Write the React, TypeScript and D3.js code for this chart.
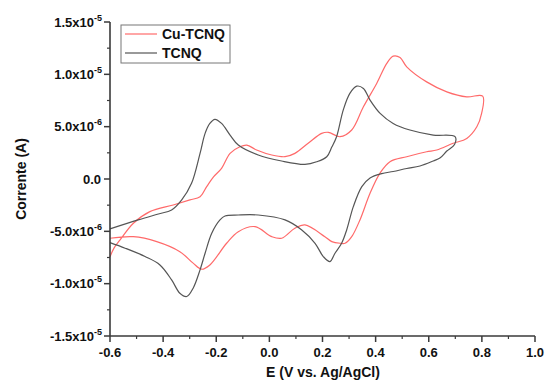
import * as d3 from "d3";

// potential (V vs Ag/AgCl) and current (in 1e-6 A)
const tcnqE = [
  -0.6, -0.494, -0.418, -0.368, -0.33, -0.293, -0.261, -0.242, -0.224, -0.205, -0.18, -0.148, -0.117, -0.042,
  0.046, 0.134, 0.178, 0.216, 0.235, 0.253, 0.278, 0.303, 0.329, 0.354, 0.379, 0.417, 0.466, 0.529, 0.617, 0.699,
  0.697, 0.668, 0.642, 0.617, 0.567, 0.517, 0.466, 0.423, 0.379, 0.348, 0.316, 0.291, 0.272, 0.247, 0.228, 0.203,
  0.172, 0.122, 0.059, -0.042, -0.117, -0.167, -0.186, -0.217, -0.242, -0.261, -0.287, -0.311, -0.337, -0.368,
  -0.412, -0.468, -0.543, -0.6,
];
const tcnqI = [
  -4.77, -3.91, -3.34, -2.96, -2.0, -0.41, 2.45, 4.36, 5.31, 5.7, 5.31, 4.2, 3.24, 2.29,
  1.72, 1.4, 1.65, 2.13, 3.05, 4.04, 6.58, 8.18, 8.87, 8.65, 7.54, 6.27, 5.31, 4.68, 4.2, 4.04,
  3.3, 2.67, 2.0, 1.72, 1.24, 1.0, 0.72, 0.52, 0.1, -0.73, -2.64, -4.87, -6.14, -7.09, -7.89, -7.41,
  -6.14, -4.87, -3.91, -3.44, -3.44, -3.53, -3.91, -5.18, -7.09, -8.68, -10.43, -11.23, -10.91, -9.64,
  -8.21, -7.41, -6.61, -6.08,
];
const cuE = [
  -0.6, -0.585, -0.562, -0.512, -0.45, -0.362, -0.299, -0.261, -0.236, -0.211, -0.18, -0.148, -0.111, -0.085,
  -0.048, 0.009, 0.059, 0.096, 0.146, 0.197, 0.222, 0.266, 0.31, 0.354, 0.404, 0.442, 0.466, 0.492, 0.517,
  0.592, 0.668, 0.743, 0.803,
  0.799, 0.781, 0.743, 0.692, 0.63, 0.592, 0.517, 0.454, 0.416, 0.379, 0.341, 0.31, 0.285, 0.266, 0.235,
  0.209, 0.134, 0.096, 0.046, 0.009, -0.054, -0.117, -0.161, -0.224, -0.255, -0.287, -0.337, -0.424, -0.512, -0.6,
];
const cuI = [
  -7.44, -6.6, -5.82, -4.23, -3.12, -2.48, -2.0, -1.69, -0.73, 0.19, 1.02, 2.45, 3.08, 3.24,
  2.77, 2.29, 2.13, 2.45, 3.41, 4.36, 4.46, 4.04, 4.68, 6.9, 9.13, 11.04, 11.74, 11.61, 10.72,
  9.28, 8.33, 7.85, 7.92,
  6.27, 4.99, 3.88, 3.41, 2.77, 2.6, 2.13, 1.65, 0.54, -1.36, -3.91, -5.51, -6.14, -6.14, -5.98,
  -5.51, -4.39, -4.7, -5.66, -5.51, -4.55, -5.03, -6.14, -8.21, -8.62, -8.04, -6.94, -5.98, -5.51, -5.66,
];

const seriesNames = ["Cu-TCNQ", "TCNQ"];
const seriesColors = ["#ff6a6a", "#555555"];

const xTicks = [-0.6, -0.4, -0.2, 0.0, 0.2, 0.4, 0.6, 0.8, 1.0];
const yTicks = [15, 10, 5, 0, -5, -10, -15];
const yTickMantissa = ["1.5", "1.0", "5.0", "0.0", "-5.0", "-1.0", "-1.5"];
const yTickExp = ["-5", "-5", "-6", "", "-6", "-5", "-5"];

const W = 546;
const H = 385;
const font = "'Liberation Sans', Arial, sans-serif";

export default function App() {
  const x = d3.scaleLinear().domain([-0.6, 1.0]).range([110, 535]);
  const y = d3.scaleLinear().domain([-15, 15]).range([336, 22]);

  const line = d3
    .line<[number, number]>()
    .x((d) => x(d[0]))
    .y((d) => y(d[1]))
    .curve(d3.curveCatmullRom.alpha(0.5));

  const series = [
    cuE.map((e, i) => [e, cuI[i]] as [number, number]),
    tcnqE.map((e, i) => [e, tcnqI[i]] as [number, number]),
  ];

  const xMinor = d3.range(-0.5, 1.0, 0.2);
  const yMinor = d3.range(-12.5, 15, 5);
  const axisColor = "#3a3a3a";

  return (
    <svg
      width={W}
      height={H}
      style={{ position: "absolute", left: 0, top: 0, background: "#fff" }}
      fontFamily={font}
      fontWeight="bold"
    >
      {/* curves */}
      {series.map((pts, i) => (
        <path key={i} d={line(pts) ?? ""} fill="none" stroke={seriesColors[i]} strokeWidth={1.2} />
      ))}

      {/* axes */}
      <line x1={110} x2={535} y1={336} y2={336} stroke={axisColor} strokeWidth={1.6} />
      <line x1={110} x2={110} y1={22} y2={336} stroke={axisColor} strokeWidth={1.6} />

      {xTicks.map((t) => (
        <g key={"x" + t}>
          <line x1={x(t)} x2={x(t)} y1={336} y2={342} stroke={axisColor} strokeWidth={1.5} />
          <text x={x(t)} y={357} textAnchor="middle" fontSize={13} fill="#111">
            {t.toFixed(1)}
          </text>
        </g>
      ))}
      {xMinor.map((t) => (
        <line key={"xm" + t} x1={x(t)} x2={x(t)} y1={336} y2={339} stroke={axisColor} strokeWidth={1.2} />
      ))}

      {yTicks.map((t, i) => (
        <g key={"y" + t}>
          <line x1={104} x2={110} y1={y(t)} y2={y(t)} stroke={axisColor} strokeWidth={1.5} />
          {yTickExp[i] ? (
            <text x={102} y={y(t) + 4.5} textAnchor="end" fontSize={13} fill="#111">
              {yTickMantissa[i]}x10
              <tspan fontSize={9} dy={-6}>
                {yTickExp[i]}
              </tspan>
            </text>
          ) : (
            <text x={101} y={y(t) + 4.5} textAnchor="end" fontSize={13} fill="#111">
              {yTickMantissa[i]}
            </text>
          )}
        </g>
      ))}
      {yMinor.map((t) => (
        <line key={"ym" + t} x1={107} x2={110} y1={y(t)} y2={y(t)} stroke={axisColor} strokeWidth={1.2} />
      ))}

      {/* axis titles */}
      <text x={323} y={377} textAnchor="middle" fontSize={14} fill="#111">
        E (V vs. Ag/AgCl)
      </text>
      <text
        transform="translate(26,179) rotate(-90)"
        textAnchor="middle"
        fontSize={14}
        fill="#111"
      >
        Corrente (A)
      </text>

      {/* legend */}
      <rect x={121} y={25} width={109} height={38} fill="#fff" stroke="#777" strokeWidth={1} />
      {seriesNames.map((name, i) => (
        <g key={name}>
          <line x1={125} x2={157} y1={34 + i * 19} y2={34 + i * 19} stroke={seriesColors[i]} strokeWidth={1.2} />
          <text x={162} y={39 + i * 19} fontSize={14} fill="#111">
            {name}
          </text>
        </g>
      ))}
    </svg>
  );
}
